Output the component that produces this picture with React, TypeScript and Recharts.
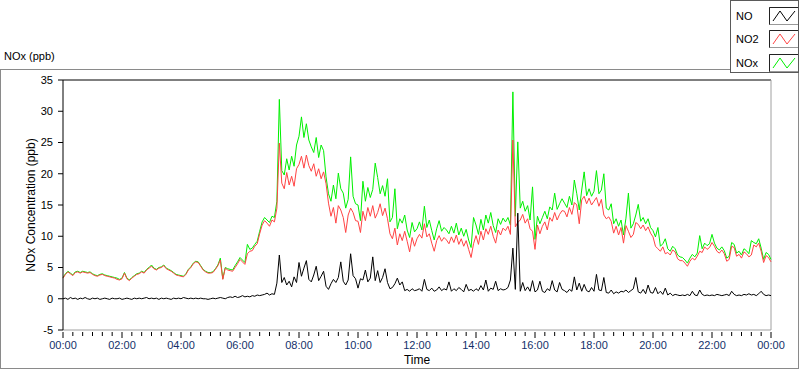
import { LineChart, Line, XAxis, YAxis, Legend, ReferenceLine } from 'recharts'

// 5-minute samples, one row per hour, last value is 24:00
const no = [
  0.0, 0.1, -0.1, 0.2, 0.0, 0.1, -0.1, 0.1, 0.0, 0.2, 0.0, -0.1,
  0.1, 0.0, 0.1, -0.1, 0.0, 0.1, 0.0, -0.1, 0.1, 0.0, 0.0, 0.1,
  -0.1, 0.0, 0.1, 0.0, -0.1, 0.1, 0.0, 0.1, 0.0, 0.1, 0.2, 0.0,
  0.1, 0.0, 0.1, -0.1, 0.1, 0.0, 0.1, 0.0, -0.1, 0.1, 0.0, 0.1,
  0.0, 0.2, 0.1, 0.0, 0.1, 0.0, 0.1, 0.0, 0.1, 0.0, 0.0, -0.1,
  0.0, 0.1, 0.0, 0.1, 0.2, 0.1, 0.0, 0.2, 0.3, 0.2, 0.4, 0.2,
  0.3, 0.5, 0.3, 0.4, 0.3, 0.5, 0.4, 0.6, 0.5, 0.6, 0.7, 0.9,
  0.6, 0.8, 0.7, 2.5, 7.0, 2.6, 3.4, 2.2, 2.8, 1.9, 3.5, 2.6,
  5.8, 3.6, 4.9, 6.1, 3.1, 2.7, 3.8, 5.2, 2.9, 3.6, 4.4, 2.0,
  1.5, 2.4, 3.1, 2.6, 3.4, 5.9, 2.8, 2.2, 3.0, 7.2, 3.7, 3.2,
  1.7, 3.2, 3.0, 4.6, 2.7, 3.3, 6.7, 2.9, 4.5, 2.6, 3.4, 4.8,
  2.6, 1.6, 1.8, 2.4, 3.3, 2.2, 2.7, 1.3, 1.5, 1.2, 1.6, 1.3,
  1.4, 1.6, 1.2, 3.1, 1.5, 1.3, 1.7, 1.2, 1.4, 1.9, 1.3, 1.6,
  1.4, 2.7, 1.2, 1.6, 1.3, 1.8, 1.5, 1.1, 2.3, 1.3, 1.5, 1.2,
  1.6, 1.3, 2.1, 1.4, 3.0, 1.2, 1.7, 1.5, 2.8, 1.3, 1.6, 1.4,
  1.5, 1.8, 3.0, 8.1, 1.5, 13.7, 1.2, 2.6, 1.3, 1.9, 1.2, 2.9,
  1.1, 1.4, 2.8, 1.2, 1.0, 1.6, 1.3, 2.9, 1.4, 1.1, 2.6, 1.5,
  1.3, 1.0, 1.5, 1.2, 3.5, 1.4, 2.5, 1.2, 2.3, 1.3, 1.1, 1.8,
  1.2, 3.9, 1.4, 1.3, 3.4, 1.0, 0.9, 1.4, 0.8, 1.1, 0.9, 1.2,
  1.1, 1.4, 1.0, 1.3, 1.6, 3.4, 1.1, 0.9, 1.5, 0.8, 2.2, 1.0,
  0.9, 1.8, 0.8, 1.2, 0.7, 1.7, 0.6, 0.9, 0.5, 0.7, 0.6, 0.5,
  0.6, 0.5, 0.7, 0.5, 1.2, 0.6, 0.5, 1.4, 0.7, 0.5, 0.6, 0.5,
  0.6, 0.5, 0.7, 0.6, 0.5, 0.6, 0.7, 0.5, 1.2, 0.7, 0.5, 0.6,
  0.5, 0.7, 0.6, 0.8, 0.6, 0.7, 0.5, 0.8, 1.2, 0.7, 0.5, 0.6,
  0.5,
]

const no2 = [
  3.3, 3.9, 4.3, 4.0, 3.7, 4.2, 4.3, 4.1, 4.3, 4.2, 4.1, 4.2,
  3.9, 3.7, 3.6, 3.8, 3.9, 3.7, 3.6, 3.5, 3.4, 3.3, 3.1, 3.0,
  3.2, 4.1, 3.2, 2.9, 3.3, 3.6, 3.9, 4.0, 4.3, 4.1, 4.6, 4.9,
  5.2, 4.8, 4.6, 4.9, 5.0, 5.3, 4.8, 4.6, 4.4, 4.1, 3.8, 3.7,
  3.6, 3.5, 3.9, 4.6, 5.0, 5.6, 5.9, 5.8, 5.2, 4.6, 4.3, 4.1,
  4.1, 4.2, 4.7, 5.3, 6.2, 3.1, 4.9, 4.6, 4.5, 4.4, 5.0, 5.6,
  6.3, 5.9, 5.5, 7.2, 7.6, 7.7, 8.4, 8.8, 10.4, 11.8, 12.5, 12.1,
  11.6, 12.6, 12.3, 14.5, 24.9, 18.5, 17.6, 20.2, 18.2, 19.6, 18.0, 20.8,
  21.5, 22.8, 20.9, 23.0, 21.3, 20.4, 21.6, 19.6, 20.8, 19.2, 20.3, 18.4,
  15.3, 13.2, 14.6, 12.1, 14.9, 14.2, 13.0, 10.6, 13.4, 14.5, 13.8, 12.5,
  12.4, 10.6, 14.0, 12.5, 14.6, 13.2, 14.9, 12.9, 13.8, 15.2, 13.3, 14.5,
  12.8, 10.4, 9.6, 11.3, 8.6, 10.4, 9.3, 10.8, 9.2, 7.5, 9.8, 8.4,
  9.6, 10.3, 9.7, 12.0, 9.9, 10.4, 8.9, 7.6, 9.3, 10.1, 9.2, 9.8,
  9.4, 8.8, 9.9, 9.0, 10.2, 8.7, 9.6, 8.4, 9.3, 7.9, 6.6, 8.8,
  10.1, 8.7, 10.8, 9.4, 11.2, 10.3, 11.6, 10.0, 8.9, 11.0, 10.2, 11.3,
  10.9, 11.6, 10.3, 25.4, 11.5, 12.2, 12.6, 13.5, 12.1, 12.8, 11.2, 10.8,
  7.9, 11.8, 10.4, 11.6, 12.3, 11.0, 13.0, 12.4, 13.8, 12.6, 13.5, 14.1,
  14.0, 13.1, 14.6, 13.5, 15.4, 15.0, 12.0, 15.8, 16.4, 15.2, 16.1, 15.0,
  15.6, 16.2, 14.8, 15.9, 13.4, 12.8, 13.1, 12.4, 10.5, 11.6, 10.2, 11.4,
  8.9, 11.7, 10.8, 9.8, 10.3, 12.2, 11.9, 11.2, 11.8, 10.9, 11.5, 10.5,
  9.9, 8.4, 8.0, 7.6, 8.3, 7.2, 7.4, 7.0, 7.8, 7.5, 6.4, 6.1,
  6.1, 5.7, 5.2, 6.0, 6.5, 6.2, 6.8, 7.6, 7.4, 8.3, 7.9, 8.2,
  9.0, 8.4, 7.6, 7.3, 7.8, 7.2, 6.0, 6.3, 8.4, 8.2, 6.8, 7.1,
  6.5, 7.5, 7.2, 6.7, 7.0, 8.6, 8.3, 8.9, 7.6, 5.8, 6.9, 6.6,
  5.9,
]

const nox = [
  3.4, 4.0, 4.4, 4.1, 3.8, 4.3, 4.4, 4.2, 4.4, 4.3, 4.2, 4.3,
  4.0, 3.8, 3.7, 3.9, 4.0, 3.8, 3.7, 3.6, 3.5, 3.4, 3.3, 3.1,
  3.3, 4.2, 3.3, 3.0, 3.4, 3.7, 4.0, 4.1, 4.4, 4.2, 4.7, 5.0,
  5.4, 4.9, 4.7, 5.0, 5.1, 5.4, 4.9, 4.7, 4.5, 4.2, 3.9, 3.8,
  3.7, 3.6, 4.0, 4.7, 5.1, 5.7, 6.0, 5.9, 5.3, 4.7, 4.4, 4.2,
  4.2, 4.3, 4.8, 5.4, 6.5, 3.2, 5.0, 4.8, 4.7, 4.6, 5.3, 5.9,
  6.6, 6.2, 5.8, 8.7, 7.9, 8.1, 8.7, 9.2, 10.8, 12.3, 13.0, 12.6,
  12.2, 13.2, 13.0, 15.6, 31.9, 20.5, 19.8, 22.4, 20.6, 22.8, 21.2, 24.6,
  26.0, 29.1, 25.8, 28.0, 25.4, 24.3, 23.4, 25.8, 22.6, 24.6, 23.7, 19.5,
  16.8, 15.6, 18.2, 16.0, 20.1, 17.6, 16.9, 14.5, 15.9, 22.7, 16.4, 15.2,
  15.0, 12.5, 18.8, 15.6, 17.8, 16.2, 17.5, 21.7, 19.4, 16.8, 18.1, 16.4,
  19.2, 12.3, 13.0, 17.6, 11.2, 12.8, 12.1, 13.4, 11.0, 9.8, 12.2, 10.7,
  11.2, 12.3, 11.0, 14.8, 11.4, 12.6, 10.9, 9.4, 11.2, 12.5, 10.8, 11.4,
  11.0, 10.4, 11.6, 10.5, 12.1, 10.2, 11.3, 10.0, 11.1, 9.4, 8.2, 13.0,
  11.8, 10.3, 12.7, 11.0, 13.4, 12.1, 13.8, 11.7, 10.6, 12.8, 11.9, 12.9,
  12.3, 13.0, 11.8, 33.1, 13.2, 25.1, 14.5, 15.6, 14.0, 14.9, 12.6, 17.9,
  9.5, 13.2, 12.0, 13.0, 14.0, 12.8, 14.7, 14.2, 16.9, 14.3, 15.2, 16.0,
  15.3, 14.6, 16.4, 15.0, 19.0, 16.8, 14.2, 17.4, 20.3, 16.5, 17.6, 16.4,
  17.2, 20.5, 16.8, 17.4, 20.0, 14.5, 14.2, 15.2, 12.0, 12.8, 11.6, 12.6,
  10.2, 12.9, 16.9, 11.3, 12.0, 13.4, 15.1, 12.4, 13.0, 12.0, 12.8, 11.4,
  10.9, 9.9, 11.4, 8.4, 8.8, 9.6, 8.0, 7.6, 8.4, 8.0, 7.0, 6.7,
  6.6, 6.2, 5.7, 6.5, 7.1, 6.7, 7.3, 10.1, 8.0, 8.9, 8.5, 8.8,
  10.3, 8.9, 8.1, 7.8, 8.3, 7.7, 6.5, 6.8, 9.0, 8.7, 7.3, 7.6,
  7.0, 8.0, 7.7, 7.2, 9.3, 9.0, 8.8, 9.6, 8.1, 6.3, 7.4, 7.1,
  6.3,
]

const xTicks = Array.from({ length: 73 }, (_, i) => i * 20)
const yTicks = [-5, 0, 5, 10, 15, 20, 25, 30, 35]

const series = [
  { key: 'no', name: 'NO', color: '#000000' },
  { key: 'no2', name: 'NO2', color: '#ff4343' },
  { key: 'nox', name: 'NOx', color: '#00f000' },
]

const data = no.map((v, i) => ({ t: i * 5, no: v, no2: no2[i], nox: nox[i] }))

const font = '"Liberation Sans", Arial, sans-serif'

const hhmm = (m: number) => {
  const h = Math.floor(m / 60) % 24
  const mm = m % 60
  return `${String(h).padStart(2, '0')}:${String(mm).padStart(2, '0')}`
}

function TimeTick(props: any) {
  const { x, y, payload } = props
  const major = payload.value % 120 === 0
  return (
    <g>
      <line x1={x} x2={x} y1={y + 2} y2={y + (major ? 8 : 6)} stroke="#000" />
      {major && (
        <text x={x} y={y + 19} textAnchor="middle" fontSize={11} fontFamily={font} fill="#13306a">
          {hhmm(payload.value)}
        </text>
      )}
    </g>
  )
}

function YLabel(props: any) {
  const { viewBox } = props
  const cx = 31
  const cy = viewBox.y + viewBox.height / 2
  return (
    <text
      x={cx}
      y={cy}
      transform={`rotate(-90 ${cx} ${cy})`}
      textAnchor="middle"
      dominantBaseline="central"
      fontSize={12}
      fontFamily={font}
      fill="#000"
    >
      NOx Concentration (ppb)
    </text>
  )
}

function TimeLabel(props: any) {
  const { viewBox } = props
  return (
    <text x={viewBox.x + viewBox.width / 2} y={364} textAnchor="middle" fontSize={12} fontFamily={font} fill="#000">
      Time
    </text>
  )
}

function Swatch({ color }: { color: string }) {
  return (
    <svg width={30} height={18} style={{ display: 'block' }}>
      <rect x={0.5} y={0.5} width={29} height={17} fill="#fff" stroke="#999" />
      <polyline points="0.5,17.5 0.5,0.5 29.5,0.5" fill="none" stroke="#222" />
      <polyline points="4,14 11,4 18,14 26,4" fill="none" stroke={color} />
    </svg>
  )
}

function PlotLegend() {
  return (
    <div style={{ width: 69, height: 73, boxSizing: 'border-box', border: '1px solid #5a5a5a', background: '#fff', paddingTop: 3 }}>
      {series.map((s) => (
        <div key={s.key} style={{ display: 'flex', alignItems: 'center', height: 23.5 }}>
          <span style={{ width: 35, paddingLeft: 5, fontSize: 11, fontFamily: font, color: '#000' }}>{s.name}</span>
          <Swatch color={s.color} />
        </div>
      ))}
    </div>
  )
}

export default function App() {
  return (
    <div style={{ position: 'absolute', left: 0, top: 0, width: 800, height: 369, background: '#fff', overflow: 'hidden' }}>
      <div
        style={{
          position: 'absolute',
          left: 0,
          top: 69,
          width: 799,
          height: 300,
          boxSizing: 'border-box',
          border: '1px solid #8a8a8a',
        }}
      />
      <div style={{ position: 'absolute', left: 4, top: 50, fontSize: 11, fontFamily: font, color: '#000' }}>NOx (ppb)</div>
      <LineChart width={800} height={369} data={data} margin={{ top: 80, right: 29, bottom: 0, left: 0 }}>
        <XAxis
          dataKey="t"
          type="number"
          domain={[0, 1440]}
          ticks={xTicks}
          interval={0}
          tickSize={0}
          tickMargin={0}
          tickLine={false}
          tick={<TimeTick />}
          axisLine={{ stroke: '#a0a0a0' }}
          height={39}
          label={<TimeLabel />}
        />
        <YAxis
          domain={[-5, 35]}
          ticks={yTicks}
          interval={0}
          width={63}
          tickSize={5}
          tickMargin={5}
          tickLine={{ stroke: '#000' }}
          axisLine={{ stroke: '#000' }}
          tick={{ fontSize: 11, fill: '#000', fontFamily: font }}
          label={<YLabel />}
        />
        <ReferenceLine y={35} stroke="#000" />
        <ReferenceLine x={1440} stroke="#a0a0a0" />
        <Line dataKey="nox" name="NOx" stroke="#00f000" strokeWidth={1} dot={false} type="linear" isAnimationActive={false} />
        <Line dataKey="no2" name="NO2" stroke="#ff4343" strokeWidth={1} dot={false} type="linear" isAnimationActive={false} />
        <Line dataKey="no" name="NO" stroke="#000000" strokeWidth={1} dot={false} type="linear" isAnimationActive={false} />
        <Legend
          layout="horizontal"
          verticalAlign="middle"
          align="center"
          content={() => <PlotLegend />}
          wrapperStyle={{ position: 'absolute', left: 730, top: 0, width: 69, height: 73, bottom: 'auto', right: 'auto' }}
        />
      </LineChart>
    </div>
  )
}
